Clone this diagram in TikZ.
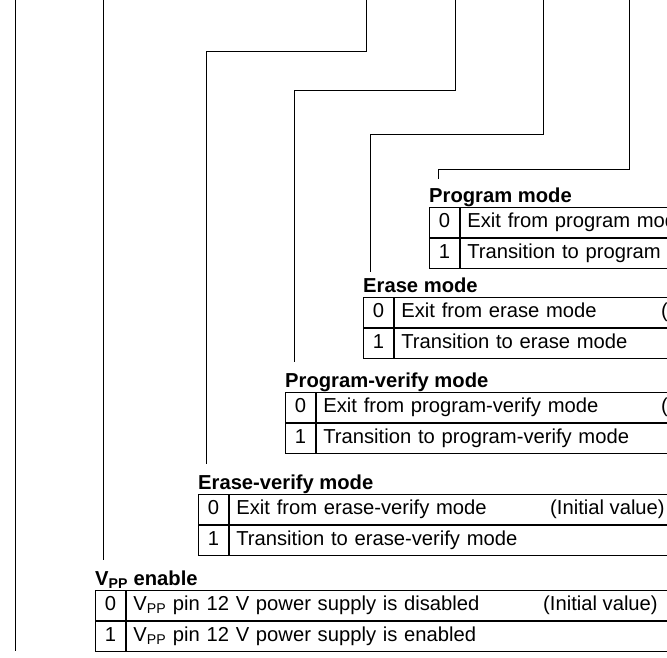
\documentclass[tikz,border=0pt]{standalone}
\usepackage{fontspec}
\setmainfont{Liberation Sans}
\usetikzlibrary{calc}
\newcommand\dgfs{\fontsize{20.2pt}{24pt}\selectfont}
\begin{document}
\begin{tikzpicture}[x=1pt,y=-1pt,
  conn/.style={draw=black, line width=0.9pt},
  lbl/.style={anchor=base west, inner sep=0pt, font=\dgfs\bfseries},
  bitcell/.style={draw=black, line width=0.9pt, anchor=north west, minimum width=30pt, minimum height=30pt, inner sep=0pt, text height=14.5pt, text depth=4pt, font=\dgfs},
  desccell/.style={draw=black, line width=0.9pt, anchor=north west, minimum height=30pt, inner xsep=7pt, inner ysep=0pt, text height=14.5pt, text depth=4pt, text width=600pt, align=left, font=\dgfs},
  txt/.style={anchor=base west, inner sep=0pt, font=\dgfs}]
\useasboundingbox (0,0) rectangle (667,657);
\clip (0,0) rectangle (667,657);

% ---- Program mode
\node[lbl] (pl) at (429,202) {Program mode};
\node[bitcell] (p0) at (429,207) {0};
\node[desccell] (p0d) at (p0.north east) {Exit from program mode};
\node[bitcell] (p1) at (p0.south west) {1};
\node[desccell] (p1d) at (p1.north east) {Transition to program mode};

% ---- Erase mode
\node[lbl] (el) at (363,292) {Erase mode};
\node[bitcell] (e0) at (363,297) {0};
\node[desccell] (e0d) at (e0.north east) {Exit from erase mode};
\node[bitcell] (e1) at (e0.south west) {1};
\node[desccell] (e1d) at (e1.north east) {Transition to erase mode};
\node[txt] (e0i) at (661,317) {(Initial value)};

% ---- Program-verify mode
\node[lbl] (pvl) at (285,387) {Program-verify mode};
\node[bitcell] (pv0) at (285,392) {0};
\node[desccell] (pv0d) at (pv0.north east) {Exit from program-verify mode};
\node[bitcell] (pv1) at (pv0.south west) {1};
\node[desccell] (pv1d) at (pv1.north east) {Transition to program-verify mode};
\node[txt] (pv0i) at (661,412) {(Initial value)};

% ---- Erase-verify mode
\node[lbl] (evl) at (198,489) {Erase-verify mode};
\node[bitcell] (ev0) at (198,494) {0};
\node[desccell] (ev0d) at (ev0.north east) {Exit from erase-verify mode};
\node[bitcell] (ev1) at (ev0.south west) {1};
\node[desccell] (ev1d) at (ev1.north east) {Transition to erase-verify mode};
\node[txt] (ev0i) at (550,514) {(Initial value)};

% ---- VPP enable
\node[lbl] (vl) at (95,585) {V\textsubscript{PP} enable};
\node[bitcell] (v0) at (95,590) {0};
\node[desccell] (v0d) at (v0.north east) {V\textsubscript{PP} pin 12 V power supply is disabled};
\node[bitcell] (v1) at (v0.south west) {1};
\node[desccell] (v1d) at (v1.north east) {V\textsubscript{PP} pin 12 V power supply is enabled};
\node[txt] (v0i) at (543,610) {(Initial value)};

% ---- connector coordinates
\coordinate (aT) at (15,0);   \coordinate (aE) at (15,651);
\coordinate (bT) at (103,0);  \coordinate (bE) at (103,560);
\coordinate (cT) at (366,0);  \coordinate (cC) at (206,51);  \coordinate (cE) at (206,464);
\coordinate (dT) at (455,0);  \coordinate (dC) at (294,90);  \coordinate (dE) at (294,362);
\coordinate (eT) at (543,0);  \coordinate (eC) at (370,134); \coordinate (eE) at (370,272);
\coordinate (fT) at (629,0);  \coordinate (fC) at (438,169); \coordinate (fE) at (438,179);

\draw[conn] (aT) -- (aE);
\draw[conn] (bT) -- (bE);
\draw[conn] (cT) |- (cC) -- (cE);
\draw[conn] (dT) |- (dC) -- (dE);
\draw[conn] (eT) |- (eC) -- (eE);
\draw[conn] (fT) |- (fC) -- (fE);
\end{tikzpicture}
\end{document}
